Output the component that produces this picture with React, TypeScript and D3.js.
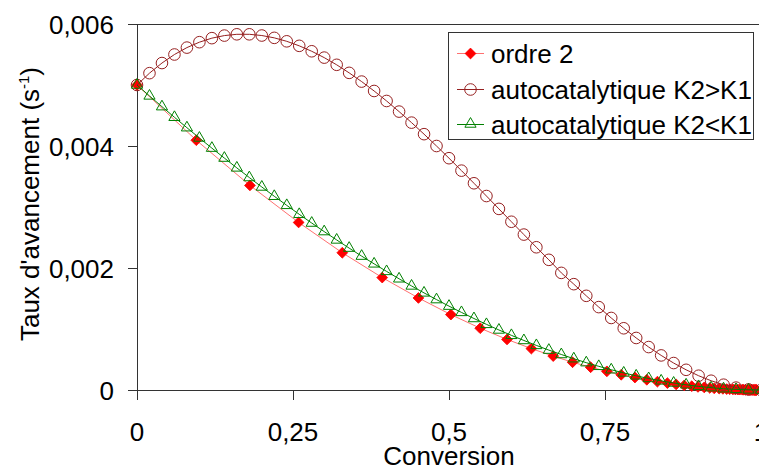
import React, { useRef, useEffect } from 'react';
import * as d3 from 'd3';

// conversion grid shared by the two autocatalytic series
const gridX = [
  0, 0.02, 0.04, 0.06, 0.08, 0.1, 0.12, 0.14, 0.16, 0.18, 0.2, 0.22, 0.24, 0.26, 0.28, 0.3, 0.32, 0.34,
  0.36, 0.38, 0.4, 0.42, 0.44, 0.46, 0.48, 0.5, 0.52, 0.54, 0.56, 0.58, 0.6, 0.62, 0.64, 0.66, 0.68,
  0.7, 0.72, 0.74, 0.76, 0.78, 0.8, 0.82, 0.84, 0.86, 0.88, 0.9, 0.92, 0.94, 0.96, 0.98, 1,
];

const autoUpY = [
  0.005, 0.005194, 0.00536, 0.0055, 0.005613, 0.005702, 0.005768, 0.00581, 0.005831, 0.005831,
  0.005811, 0.005773, 0.005716, 0.005642, 0.005553, 0.005449, 0.005331, 0.005199, 0.005056,
  0.004902, 0.004738, 0.004564, 0.004383, 0.004194, 0.004, 0.0038, 0.003596, 0.003389, 0.00318,
  0.002969, 0.002758, 0.002548, 0.00234, 0.002134, 0.00192, 0.001735, 0.001544, 0.001359,
  0.001181, 0.001012, 0.000853, 0.000704, 0.000567, 0.000442, 0.000331, 0.000234, 0.000152,
  0.000087, 0.000039, 0.00001, 0,
];

const autoDownY = [
  0.005, 0.004821, 0.004645, 0.004471, 0.0043, 0.004131, 0.003965, 0.003802, 0.003641, 0.003483,
  0.003328, 0.003176, 0.003027, 0.00288, 0.002737, 0.002597, 0.00246, 0.002326, 0.002195,
  0.002068, 0.001944, 0.001823, 0.001706, 0.001592, 0.001482, 0.001375, 0.001272, 0.001172,
  0.001076, 0.000984, 0.000896, 0.000812, 0.000731, 0.000654, 0.000582, 0.000513, 0.000448,
  0.000388, 0.000332, 0.00028, 0.000232, 0.000189, 0.00015, 0.000115, 0.000085, 0.000059,
  0.000038, 0.000021, 0.00001, 0.000002, 0,
];

const ordre2X = [
  0, 0.095, 0.181, 0.259, 0.329, 0.393, 0.451, 0.503, 0.55, 0.593, 0.632, 0.667, 0.698, 0.727,
  0.753, 0.776, 0.798, 0.817, 0.834, 0.85, 0.864, 0.877, 0.889, 0.899, 0.909, 0.918, 0.925, 0.933,
  0.939, 0.945, 0.95, 0.955, 0.959, 0.963, 0.966, 0.97, 0.972, 0.975, 0.978, 0.98, 0.982, 0.983,
  0.985, 0.986, 0.988, 0.989, 0.99, 0.991, 0.992, 0.993,
];

const ordre2Y = [
  0.005, 0.004095, 0.003354, 0.002747, 0.00225, 0.001843, 0.001509, 0.001236, 0.001013, 0.000829,
  0.000679, 0.000556, 0.000455, 0.000373, 0.000306, 0.00025, 0.000205, 0.000168, 0.000137,
  0.000113, 0.000092, 0.000076, 0.000062, 0.000051, 0.000042, 0.000034, 0.000028, 0.000023,
  0.000019, 0.000015, 0.000013, 0.00001, 0.000008, 0.000007, 0.000006, 0.000005, 0.000004,
  0.000003, 0.000003, 0.000002, 0.000002, 0.000001, 0.000001, 0.000001, 0.000001, 0.000001,
  0.000001, 0, 0, 0,
];

const xTicks = [0, 0.25, 0.5, 0.75, 1];
const yTicks = [0, 0.002, 0.004, 0.006];
const legendLabels = ['ordre 2', 'autocatalytique K2>K1', 'autocatalytique K2<K1'];

const W = 759;
const H = 469;
const FONT = "'Liberation Sans', Arial, Helvetica, sans-serif";
const FS = 26;
const RED = '#ff0000';
const RED_LINE = '#ff7070';
const DARK_RED = '#962020';
const GREEN = '#008000';

const fmt = (v: number) => String(v).replace('.', ',');

const App = () => {
  const svgRef = useRef<SVGSVGElement>(null);

  useEffect(() => {
    const svg = d3.select(svgRef.current);
    svg.selectAll('*').remove();

    const x = d3.scaleLinear().domain([0, 1]).range([137, 761]);
    const y = d3.scaleLinear().domain([0, 0.006]).range([390, 24]);

    const diamond = d3.symbol(d3.symbolSquare, 58)();
    const triangle = d3.symbol(d3.symbolTriangle, 54)();

    // frame / axes
    const g = svg.append('g');
    g.append('line').attr('x1', 137.5).attr('x2', W).attr('y1', 24.5).attr('y2', 24.5)
      .attr('stroke', '#333').attr('stroke-width', 1);
    g.append('line').attr('x1', 137.5).attr('x2', 137.5).attr('y1', 24).attr('y2', 400)
      .attr('stroke', '#333').attr('stroke-width', 1);
    g.append('line').attr('x1', 128).attr('x2', W).attr('y1', 390.5).attr('y2', 390.5)
      .attr('stroke', '#333').attr('stroke-width', 1);

    yTicks.forEach(t => {
      const yy = Math.round(y(t)) + 0.5;
      g.append('line').attr('x1', 128).attr('x2', 137.5).attr('y1', yy).attr('y2', yy)
        .attr('stroke', '#333');
      g.append('text').attr('x', 114).attr('y', y(t) + 9.5).attr('text-anchor', 'end')
        .attr('font-size', FS).attr('font-family', FONT).attr('fill', '#000').text(fmt(t));
    });
    xTicks.forEach(t => {
      const xx = Math.round(x(t)) + 0.5;
      g.append('line').attr('x1', xx).attr('x2', xx).attr('y1', 390).attr('y2', 400)
        .attr('stroke', '#333');
      g.append('text').attr('x', x(t)).attr('y', 441).attr('text-anchor', 'middle')
        .attr('font-size', FS).attr('font-family', FONT).attr('fill', '#000').text(fmt(t));
    });

    g.append('text').attr('x', x(0.5)).attr('y', 465).attr('text-anchor', 'middle')
      .attr('font-size', FS).attr('font-family', FONT).text('Conversion');

    const yt = g.append('text').attr('transform', 'translate(39,204) rotate(-90)')
      .attr('text-anchor', 'middle').attr('font-size', FS).attr('font-family', FONT);
    yt.append('tspan').text("Taux d'avancement (s");
    yt.append('tspan').attr('font-size', 15).attr('dy', -10).text('-1');
    yt.append('tspan').attr('dy', 10).text(')');

    const line = d3.line<[number, number]>().x(d => x(d[0])).y(d => y(d[1]));

    // ordre 2
    const o2 = ordre2X.map((v, i) => [v, ordre2Y[i]] as [number, number]);
    svg.append('path').attr('d', line(o2)).attr('fill', 'none')
      .attr('stroke', RED_LINE).attr('stroke-width', 1);
    svg.append('g').selectAll('path').data(o2).join('path')
      .attr('d', diamond)
      .attr('transform', d => `translate(${x(d[0])},${y(d[1])}) rotate(45)`)
      .attr('fill', RED).attr('stroke', RED).attr('stroke-width', 0.8);

    // autocatalytique K2>K1
    const up = gridX.map((v, i) => [v, autoUpY[i]] as [number, number]);
    svg.append('path').attr('d', line(up)).attr('fill', 'none')
      .attr('stroke', DARK_RED).attr('stroke-width', 1);
    svg.append('g').selectAll('circle').data(up).join('circle')
      .attr('cx', d => x(d[0])).attr('cy', d => y(d[1])).attr('r', 5.8)
      .attr('fill', 'none').attr('stroke', DARK_RED).attr('stroke-width', 1);

    // autocatalytique K2<K1
    const down = gridX.map((v, i) => [v, autoDownY[i]] as [number, number]);
    svg.append('path').attr('d', line(down)).attr('fill', 'none')
      .attr('stroke', GREEN).attr('stroke-width', 1);
    svg.append('g').selectAll('path').data(down).join('path')
      .attr('d', triangle)
      .attr('transform', d => `translate(${x(d[0])},${y(d[1])})`)
      .attr('fill', 'none').attr('stroke', GREEN).attr('stroke-width', 1);

    // legend
    const lg = svg.append('g');
    lg.append('rect').attr('x', 448.5).attr('y', 32.5).attr('width', 305).attr('height', 107)
      .attr('fill', '#fff').attr('stroke', '#333').attr('stroke-width', 1);
    legendLabels.forEach((lab, i) => {
      const cy = [53, 89, 124][i];
      lg.append('line').attr('x1', 457).attr('x2', 484).attr('y1', cy + 0.5).attr('y2', cy + 0.5)
        .attr('stroke', [RED_LINE, DARK_RED, GREEN][i]).attr('stroke-width', 1);
      if (i === 0) {
        lg.append('path').attr('d', diamond).attr('transform', `translate(470.5,${cy + 0.5}) rotate(45)`)
          .attr('fill', RED).attr('stroke', RED).attr('stroke-width', 0.8);
      } else if (i === 1) {
        lg.append('circle').attr('cx', 470.5).attr('cy', cy + 0.5).attr('r', 5.8)
          .attr('fill', 'none').attr('stroke', DARK_RED);
      } else {
        lg.append('path').attr('d', triangle).attr('transform', `translate(470.5,${cy})`)
          .attr('fill', 'none').attr('stroke', GREEN);
      }
      lg.append('text').attr('x', 491).attr('y', cy + 9.5).attr('font-size', FS)
        .attr('font-family', FONT).attr('fill', '#000').text(lab);
    });
  }, []);

  return (
    <svg ref={svgRef} width={W} height={H}
      style={{ position: 'absolute', left: 0, top: 0, background: '#fff' }} />
  );
};

export default App;
